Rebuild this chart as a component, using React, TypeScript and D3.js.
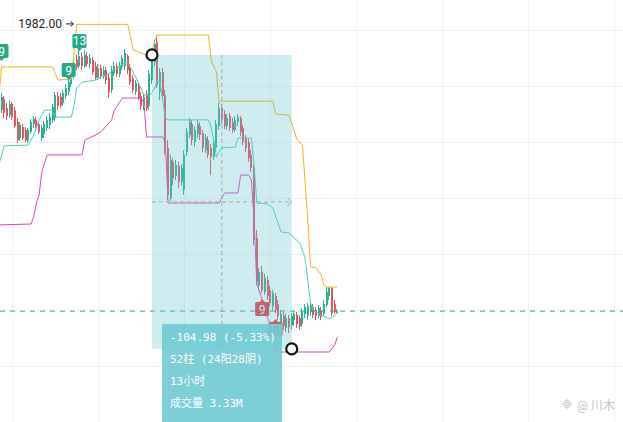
import * as d3 from 'd3';

const width = 623;
const height = 422;

// 15m bars, prices
const opens = [
    1951.4, 1955.4, 1952.1, 1949.6, 1953.6, 1951.4, 1947.1, 1941.4, 1945.4, 1944.3,
    1940.4, 1943.6, 1946.4, 1947.9, 1946.4, 1941.4, 1942.9, 1945.0, 1946.1, 1947.9,
    1948.6, 1956.4, 1956.1, 1953.9, 1956.4, 1957.9, 1960.7, 1963.6, 1969.3, 1967.1,
    1970.4, 1967.1, 1970.7, 1967.9, 1969.3, 1967.1, 1963.2, 1966.4, 1963.6, 1965.7,
    1962.9, 1958.6, 1964.6, 1967.1, 1964.3, 1966.8, 1967.1, 1970.7, 1966.4, 1962.9,
    1957.9, 1960.0, 1956.4, 1952.9, 1957.1, 1952.9, 1962.1, 1968.6, 1975.7, 1957.9,
    1965.0, 1956.8, 1937.9, 1920.0, 1932.9, 1927.9, 1931.4, 1925.7, 1922.9, 1936.4,
    1942.5, 1946.4, 1940.0, 1942.9, 1945.7, 1943.2, 1937.1, 1940.7, 1937.9, 1934.6,
    1937.9, 1945.7, 1952.1, 1950.0, 1945.7, 1949.3, 1947.1, 1944.3, 1947.1, 1948.6,
    1945.0, 1941.4, 1940.0, 1935.4, 1930.7, 1905.7, 1888.9, 1893.6, 1886.4, 1890.7,
    1887.1, 1881.4, 1885.0, 1882.1, 1874.6, 1877.9, 1873.6, 1877.1, 1874.6, 1876.4,
    1878.2, 1877.1, 1875.0, 1878.6, 1877.9, 1879.3, 1881.1, 1880.0, 1877.9, 1880.0,
    1878.6, 1881.8, 1885.0, 1887.9, 1882.1, 1878.9,
];
const highs = [
    1957.5, 1956.4, 1953.9, 1955.0, 1954.3, 1952.5, 1948.6, 1947.1, 1946.4, 1945.4,
    1945.0, 1948.2, 1949.3, 1948.9, 1947.5, 1946.1, 1947.5, 1949.3, 1950.4, 1953.6,
    1957.9, 1957.9, 1957.5, 1958.6, 1960.7, 1962.9, 1965.7, 1969.6, 1971.1, 1972.9,
    1972.1, 1972.9, 1972.1, 1971.4, 1970.4, 1968.6, 1967.9, 1967.5, 1967.1, 1966.8,
    1964.3, 1967.1, 1968.6, 1968.2, 1968.6, 1971.1, 1973.2, 1971.4, 1967.9, 1963.9,
    1962.1, 1961.1, 1957.9, 1957.1, 1958.6, 1965.7, 1972.1, 1976.4, 1978.2, 1966.4,
    1966.4, 1958.6, 1940.7, 1935.4, 1934.3, 1933.6, 1932.9, 1932.1, 1937.1, 1945.0,
    1948.6, 1947.9, 1945.7, 1947.9, 1947.1, 1944.3, 1942.9, 1942.1, 1939.3, 1940.4,
    1947.9, 1953.9, 1953.6, 1951.4, 1950.0, 1950.4, 1948.6, 1949.3, 1950.0, 1949.3,
    1946.1, 1942.5, 1941.1, 1937.1, 1931.8, 1908.6, 1895.0, 1895.7, 1892.9, 1892.1,
    1888.6, 1887.1, 1886.1, 1883.6, 1880.0, 1879.3, 1878.6, 1878.2, 1878.9, 1879.6,
    1879.3, 1878.2, 1880.7, 1882.1, 1882.5, 1882.9, 1882.1, 1881.1, 1881.8, 1881.1,
    1883.6, 1888.2, 1888.2, 1888.2, 1883.6, 1880.4,
];
const lows = [
    1950.4, 1948.6, 1947.9, 1948.6, 1947.9, 1945.0, 1939.6, 1940.4, 1940.7, 1940.0,
    1939.6, 1942.9, 1945.0, 1943.9, 1942.9, 1940.4, 1941.4, 1943.9, 1944.6, 1946.8,
    1947.5, 1951.4, 1952.1, 1952.9, 1955.4, 1956.8, 1959.6, 1962.5, 1965.7, 1966.4,
    1965.7, 1966.4, 1966.8, 1966.4, 1963.9, 1962.1, 1962.1, 1962.5, 1962.5, 1960.7,
    1955.7, 1957.5, 1963.6, 1963.2, 1963.2, 1965.7, 1965.7, 1964.3, 1960.4, 1957.5,
    1956.8, 1955.0, 1951.4, 1951.4, 1951.1, 1951.4, 1960.7, 1967.1, 1959.3, 1955.0,
    1955.0, 1935.4, 1919.3, 1918.9, 1924.6, 1926.4, 1923.6, 1924.3, 1921.1, 1935.0,
    1941.4, 1938.9, 1938.2, 1941.4, 1940.7, 1936.4, 1936.1, 1934.3, 1928.2, 1933.6,
    1936.8, 1944.3, 1946.4, 1944.6, 1944.3, 1943.9, 1943.2, 1943.6, 1945.7, 1942.1,
    1938.9, 1936.4, 1932.9, 1929.3, 1903.2, 1888.9, 1887.1, 1886.1, 1885.4, 1883.6,
    1881.4, 1880.0, 1878.9, 1876.4, 1872.9, 1872.9, 1872.1, 1871.8, 1872.9, 1874.3,
    1873.6, 1872.9, 1873.9, 1877.1, 1876.4, 1877.9, 1877.1, 1876.4, 1877.1, 1876.4,
    1877.9, 1881.1, 1883.6, 1877.9, 1878.6, 1878.6,
];
const closes = [
    1956.1, 1950.4, 1949.3, 1953.6, 1948.9, 1945.7, 1940.7, 1946.1, 1941.4, 1940.7,
    1944.3, 1947.1, 1948.2, 1945.0, 1943.6, 1945.0, 1946.4, 1947.9, 1948.9, 1952.5,
    1956.8, 1952.9, 1953.2, 1957.5, 1959.3, 1961.4, 1964.3, 1968.2, 1966.8, 1970.7,
    1967.1, 1971.1, 1967.9, 1970.0, 1965.0, 1962.9, 1966.4, 1963.6, 1965.7, 1962.1,
    1957.9, 1965.7, 1967.1, 1964.3, 1967.5, 1970.0, 1971.8, 1965.7, 1961.4, 1958.6,
    1961.1, 1955.7, 1952.9, 1956.1, 1952.1, 1964.3, 1970.0, 1975.0, 1960.4, 1965.0,
    1956.4, 1937.1, 1921.1, 1933.6, 1927.1, 1931.8, 1925.7, 1930.7, 1935.4, 1943.6,
    1947.1, 1940.7, 1944.3, 1946.4, 1942.5, 1937.9, 1941.4, 1935.4, 1934.6, 1938.9,
    1946.4, 1952.1, 1947.9, 1945.7, 1948.6, 1945.0, 1944.3, 1947.9, 1948.9, 1943.6,
    1940.0, 1937.9, 1934.3, 1930.7, 1905.0, 1890.0, 1893.6, 1887.1, 1891.4, 1885.0,
    1882.5, 1886.1, 1880.0, 1877.9, 1878.6, 1874.3, 1877.1, 1873.9, 1877.9, 1878.6,
    1875.0, 1874.3, 1879.3, 1881.1, 1881.4, 1881.8, 1878.2, 1877.9, 1880.7, 1877.5,
    1882.1, 1886.4, 1887.9, 1878.9, 1879.3, 1879.6,
];

// channel lines (bar index / price at the turning points)
const upperIdx = [-1, 0, 19, 21, 26, 28, 47, 49, 51, 54, 55, 56, 57, 58, 77, 78, 79, 80, 81, 82, 101, 102, 107, 110, 112, 114, 115, 117, 119, 120, 121, 125];
const upperVal = [1956.1, 1966.8, 1966.8, 1962.1, 1962.5, 1982.0, 1982.0, 1972.9, 1972.1, 1971.1, 1971.1, 1972.1, 1976.4, 1978.2, 1978.2, 1969.3, 1966.8, 1965.0, 1953.9, 1954.6, 1954.6, 1950.0, 1949.6, 1940.7, 1938.9, 1912.1, 1895.4, 1895.0, 1892.5, 1888.9, 1888.2, 1888.2];
const midIdx = [-1, 1, 10, 12, 14, 16, 19, 20, 26, 27, 28, 30, 35, 37, 39, 41, 43, 45, 46, 47, 49, 51, 53, 55, 57, 58, 59, 61, 62, 77, 78, 79, 80, 81, 82, 87, 88, 93, 94, 95, 99, 101, 104, 107, 111, 113, 115, 116, 119, 122, 124, 125];
const midVal = [1931.8, 1938.6, 1938.9, 1942.5, 1947.9, 1951.4, 1951.4, 1948.9, 1948.9, 1953.2, 1959.3, 1961.4, 1962.1, 1963.2, 1963.9, 1965.0, 1966.4, 1967.5, 1968.6, 1968.2, 1965.0, 1961.1, 1956.8, 1956.4, 1959.3, 1962.1, 1961.1, 1948.6, 1947.9, 1947.9, 1945.4, 1940.7, 1934.6, 1936.4, 1937.9, 1938.2, 1941.4, 1941.4, 1931.8, 1918.2, 1917.9, 1916.4, 1907.9, 1907.5, 1903.9, 1898.6, 1882.5, 1880.0, 1878.2, 1876.8, 1877.9, 1879.3];
const lowerIdx = [-1, 11, 12, 13, 14, 15, 17, 30, 31, 35, 37, 41, 42, 45, 52, 53, 54, 60, 61, 62, 81, 83, 88, 89, 92, 93, 94, 95, 97, 99, 101, 102, 122, 124, 125];
const lowerVal = [1910.4, 1910.7, 1913.2, 1918.2, 1921.1, 1929.3, 1935.4, 1935.4, 1940.7, 1942.5, 1943.6, 1947.9, 1951.4, 1955.7, 1955.7, 1953.9, 1941.8, 1941.8, 1939.6, 1918.2, 1918.2, 1921.8, 1921.8, 1928.2, 1928.2, 1926.4, 1912.1, 1889.6, 1883.6, 1877.1, 1872.9, 1865.0, 1865.0, 1867.5, 1870.4];

// TD count labels
const tdIdx = [0, 25, 29, 97, 102];
const tdText = ['9', '9', '13', '9', '13'];
const tdAbove = [true, true, true, false, false];
const tdTip = [1968.9, 1962.1, 1972.5, 1883.9, 1876.8];

// grid
const priceTicks = [1860, 1880, 1900, 1920, 1940, 1960, 1980];
const timeTicks = [4, 36, 68, 100, 132, 164, 196, 228];

// measure tool
const measureIdx = [56, 108];
const measurePrice = [1971.1, 1866.1];
const measureLines = ['-104.98 (-5.33%)', '52柱 (24阳28阴)', '13小时', '成交量 3.33M'];

const highLabel = '1982.00';
const highPrice = 1982.0;

const UP = '#28b48f';
const DOWN = '#f0505c';

export default function App() {
    const x = d3.scaleLinear().domain([0, 125]).range([1.5, 337.4]);
    const y = d3.scaleLinear().domain([1840, 1990.714]).range([height, 0]);

    const line = d3
        .line<[number, number]>()
        .x((d) => x(d[0]))
        .y((d) => y(d[1]));

    const upper = line(upperIdx.map((d, i) => [d, upperVal[i]]));
    const mid = line(midIdx.map((d, i) => [d, midVal[i]]));
    const lower = line(lowerIdx.map((d, i) => [d, lowerVal[i]]));

    const last = closes[closes.length - 1];
    const mx0 = x(measureIdx[0]);
    const mx1 = x(measureIdx[1]);
    const my0 = y(measurePrice[0]);
    const my1 = y(measurePrice[1]);
    const mxMid = x((measureIdx[0] + measureIdx[1]) / 2);
    const myMid = y((measurePrice[0] + measurePrice[1]) / 2);

    return (
        <svg
            width={width}
            height={height}
            style={{ position: 'absolute', left: 0, top: 0, background: '#fff' }}
            fontFamily='Roboto, "Noto Sans CJK SC", sans-serif'
        >
            {/* grid */}
            {priceTicks.map((p) => (
                <line key={p} x1={0} x2={width} y1={Math.round(y(p)) + 0.5} y2={Math.round(y(p)) + 0.5} stroke='#f2f2f2' />
            ))}
            {timeTicks.map((t) => (
                <line key={t} x1={Math.round(x(t)) + 0.5} x2={Math.round(x(t)) + 0.5} y1={0} y2={height} stroke='#f2f2f2' />
            ))}

            {/* candles */}
            {closes.map((c, i) => {
                const o = opens[i];
                const up = c >= o;
                const cx = Math.round(x(i));
                const top = y(Math.max(o, c));
                const bot = y(Math.min(o, c));
                return (
                    <g key={i} fill={up ? UP : DOWN}>
                        <rect x={cx - 1} y={y(highs[i])} width={1} height={y(lows[i]) - y(highs[i])} />
                        <rect x={cx - 1} y={top} width={2} height={Math.max(1, bot - top)} />
                    </g>
                );
            })}

            {/* channel */}
            <path d={upper ?? ''} fill='none' stroke='#f7b21c' strokeWidth={1} />
            <path d={mid ?? ''} fill='none' stroke='#4ccfb9' strokeWidth={1} />
            <path d={lower ?? ''} fill='none' stroke='#e244bf' strokeWidth={1} />

            {/* TD labels */}
            {tdIdx.map((idx, k) => {
                const cx = x(idx);
                const tip = y(tdTip[k]);
                const fill = tdAbove[k] ? '#24a988' : '#f23645';
                const by = tdAbove[k] ? tip - 17 : tip + 3;
                const tri = tdAbove[k]
                    ? `M${cx - 3},${tip - 3.5}L${cx + 3},${tip - 3.5}L${cx},${tip}Z`
                    : `M${cx - 3},${tip + 3.5}L${cx + 3},${tip + 3.5}L${cx},${tip}Z`;
                return (
                    <g key={k}>
                        <rect x={cx - 7} y={by} width={14} height={14} rx={1.5} fill={fill} />
                        <path d={tri} fill={fill} />
                        <text x={cx} y={by + 11.5} textAnchor='middle' fontSize={12} fill='#fff'>
                            {tdText[k]}
                        </text>
                    </g>
                );
            })}

            {/* last price line */}
            <line x1={0} x2={width} y1={y(last)} y2={y(last)} stroke='#33a88c' strokeDasharray='5,5' />

            {/* measure */}
            <rect x={mx0} y={my0} width={mx1 - mx0} height={my1 - my0} fill='rgb(89,196,208)' fillOpacity={0.3} />
            <g stroke='#a9a9a9' strokeWidth={1} fill='none'>
                <line x1={mxMid} x2={mxMid} y1={my0} y2={my1} strokeDasharray='4,3' />
                <line x1={mx0} x2={mx1} y1={myMid} y2={myMid} strokeDasharray='4,3' />
                <path d={`M${mx1 - 4},${myMid - 4}L${mx1},${myMid}L${mx1 - 4},${myMid + 4}`} />
                <path d={`M${mxMid - 3},${my1 - 4}L${mxMid},${my1}L${mxMid + 3},${my1 - 4}`} />
            </g>
            <circle cx={mx0} cy={my0} r={5.5} fill='#fff' stroke='#151515' strokeWidth={2.2} />
            <circle cx={mx1} cy={my1} r={5.5} fill='#fff' stroke='#151515' strokeWidth={2.2} />
            <rect x={mx0 + 10} y={my1 - 25} width={120} height={100} fill='#72cad4' fillOpacity={0.92} />
            {measureLines.map((t, i) => (
                <text
                    key={i}
                    x={mx0 + 18}
                    y={my1 - 8 + i * 22}
                    fontSize={11}
                    fill='#fff'
                    fontFamily='"DejaVu Sans Mono", "Noto Sans CJK SC", monospace'
                >
                    {t}
                </text>
            ))}

            {/* highest price marker */}
            <text x={62} y={y(highPrice) + 4} textAnchor='end' fontSize={12} fill='#1e1e1e'>
                {highLabel}
            </text>
            <g stroke='#1e1e1e' strokeWidth={1} fill='none'>
                <line x1={66} x2={73} y1={y(highPrice) - 0.5} y2={y(highPrice) - 0.5} />
                <path d={`M${70.5},${y(highPrice) - 3}L${73.5},${y(highPrice) - 0.5}L${70.5},${y(highPrice) + 2}`} />
            </g>

            {/* watermark */}
            <g stroke='#c6c6c6' fill='none' strokeWidth={1}>
                <rect x={564} y={401} width={6} height={6} transform='rotate(45 567 404)' />
                <circle cx={567} cy={404} r={1.5} />
            </g>
            <text x={577} y={410} fontSize={12} fill='#c3c3c3'>
                @ 川木
            </text>
        </svg>
    );
}
